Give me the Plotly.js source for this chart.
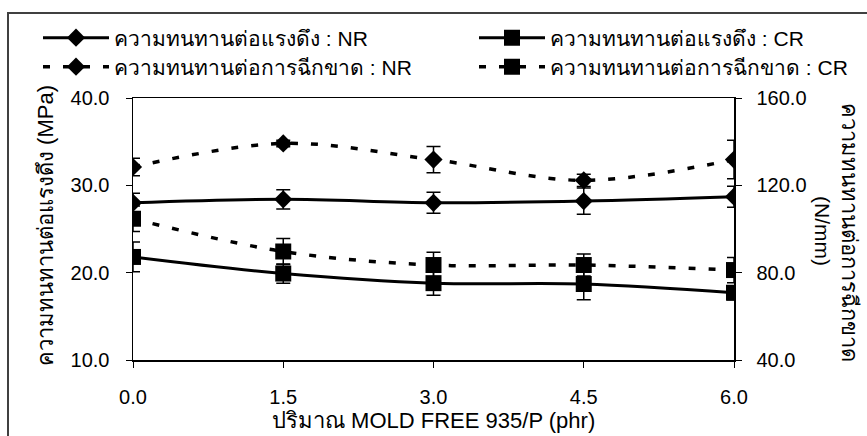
<!DOCTYPE html>
<html>
<head>
<meta charset="utf-8">
<script src="https://cdn.plot.ly/plotly-3.0.1.min.js"></script>
<style>html,body{margin:0;padding:0;background:#fff;}#chart{width:867px;height:436px;}</style>
</head>
<body>
<div id="chart"></div>
<script>
// ---- data ----
const xValues = [0, 1.5, 3.0, 4.5, 6.0];
const xTickLabels = ['0.0', '1.5', '3.0', '4.5', '6.0'];

const tensileNR = [28.0, 28.4, 28.0, 28.2, 28.7];
const tensileNRErr = [1.1, 1.1, 1.2, 1.5, 1.2];
const tensileCR = [21.8, 19.9, 18.8, 18.7, 17.7];
const tensileCRErr = [1.7, 1.1, 1.4, 1.8, 0.8];

const tearNR = [128.4, 139.2, 131.8, 122.3, 131.8];
const tearNRErr = [4.0, 1.5, 6.0, 2.8, 8.8];
const tearCR = [104.7, 89.7, 83.5, 83.5, 81.2];
const tearCRErr = [5.8, 6.0, 5.8, 5.0, 5.8];

const seriesNames = [
  'ความทนทานต่อแรงดึง : NR',
  'ความทนทานต่อแรงดึง : CR',
  'ความทนทานต่อการฉีกขาด : NR',
  'ความทนทานต่อการฉีกขาด : CR'
];
const leftTitle = 'ความทนทานต่อแรงดึง (MPa)';
const rightTitle1 = 'ความทนทานต่อการฉีกขาด';
const rightTitle2 = '(N/mm)';
const xTitle = 'ปริมาณ MOLD FREE 935/P (phr)';

// ---- layout geometry ----
const W = 867, H = 436;
const L = 133, R = 734, T = 98, B = 360;
const px2x = p => (p - L) / (R - L);
const px2y = p => (B - p) / (B - T);

const FONT = '"Liberation Sans", Arial, sans-serif';

function errBar(arr) {
  return {type: 'data', array: arr, visible: true, color: '#000', thickness: 1.5, width: 7};
}

const solidLine = {color: '#000', width: 3, shape: 'spline', smoothing: 1};
const dashLine = {color: '#000', width: 3.5, dash: '7px,13px', shape: 'spline', smoothing: 1};

const traces = [
  {x: xValues, y: tensileNR, name: seriesNames[0], type: 'scatter', mode: 'lines+markers',
   line: solidLine, marker: {symbol: 'diamond', size: 14, color: '#000'},
   error_y: errBar(tensileNRErr), yaxis: 'y', legend: 'legend'},
  {x: xValues, y: tensileCR, name: seriesNames[1], type: 'scatter', mode: 'lines+markers',
   line: solidLine, marker: {symbol: 'square', size: 16, color: '#000'},
   error_y: errBar(tensileCRErr), yaxis: 'y', legend: 'legend2'},
  {x: xValues, y: tearNR, name: seriesNames[2], type: 'scatter', mode: 'lines+markers',
   line: dashLine, marker: {symbol: 'diamond', size: 14, color: '#000'},
   error_y: errBar(tearNRErr), yaxis: 'y2', legend: 'legend3'},
  {x: xValues, y: tearCR, name: seriesNames[3], type: 'scatter', mode: 'lines+markers',
   line: dashLine, marker: {symbol: 'square', size: 16, color: '#000'},
   error_y: errBar(tearCRErr), yaxis: 'y2', legend: 'legend4'}
];

function legendAt(xpx, ypx) {
  return {
    orientation: 'h', xref: 'container', yref: 'container',
    x: xpx / W, y: 1 - ypx / H,
    xanchor: 'left', yanchor: 'middle',
    font: {family: FONT, size: 21, color: '#000'},
    bgcolor: 'rgba(0,0,0,0)', borderwidth: 0,
    itemwidth: 66, itemclick: false
  };
}

const TICKFONT = {family: FONT, size: 20, color: '#000'};

const layout = {
  width: W, height: H,
  margin: {l: L, r: W - R, t: T, b: H - B, pad: 0},
  paper_bgcolor: '#fff', plot_bgcolor: '#fff',
  font: {family: FONT, size: 20, color: '#000'},
  showlegend: true,
  legend: legendAt(38, 38),
  legend2: legendAt(474, 38),
  legend3: legendAt(38, 67),
  legend4: legendAt(474, 67),
  xaxis: {
    range: [0, 6], tickmode: 'array', tickvals: xValues, ticktext: xTickLabels,
    showgrid: false, zeroline: false, showline: true, linecolor: '#000', linewidth: 1.5,
    mirror: true, ticks: 'outside', ticklen: 6, tickcolor: '#000', tickwidth: 1,
    ticklabelstandoff: 12, tickfont: TICKFONT
  },
  yaxis: {
    range: [10, 40], tickvals: [10, 20, 30, 40], ticktext: ['10.0', '20.0', '30.0', '40.0'],
    tickmode: 'array', showgrid: false, zeroline: false, showline: true, linecolor: '#000', linewidth: 1.5,
    ticks: 'outside', ticklen: 6, tickcolor: '#000', tickwidth: 1,
    ticklabelstandoff: 12, tickfont: TICKFONT
  },
  yaxis2: {
    range: [40, 160], tickvals: [40, 80, 120, 160], ticktext: ['40.0', '80.0', '120.0', '160.0'],
    tickmode: 'array', overlaying: 'y', side: 'right',
    showgrid: false, zeroline: false, showline: true, linecolor: '#000', linewidth: 1.5,
    ticks: 'outside', ticklen: 6, tickcolor: '#000', tickwidth: 1,
    ticklabelstandoff: 11, tickfont: TICKFONT
  },
  shapes: [
    {type: 'rect', xref: 'paper', yref: 'paper',
     x0: px2x(8), x1: px2x(W + 20), y0: px2y(13), y1: px2y(H + 20),
     line: {color: '#404040', width: 2}, fillcolor: 'rgba(0,0,0,0)', layer: 'below'}
  ],
  annotations: [
    {text: leftTitle, xref: 'paper', yref: 'paper', x: px2x(45), y: px2y(226),
     xanchor: 'center', yanchor: 'middle', textangle: -90, showarrow: false,
     font: {family: FONT, size: 22, color: '#000'}},
    {text: rightTitle1, xref: 'paper', yref: 'paper', x: px2x(850), y: px2y(232),
     xanchor: 'center', yanchor: 'middle', textangle: 90, showarrow: false,
     font: {family: FONT, size: 22, color: '#000'}},
    {text: rightTitle2, xref: 'paper', yref: 'paper', x: px2x(823), y: px2y(231),
     xanchor: 'center', yanchor: 'middle', textangle: 90, showarrow: false,
     font: {family: FONT, size: 21, color: '#000'}},
    {text: xTitle, xref: 'paper', yref: 'paper', x: 0.5, y: px2y(421),
     xanchor: 'center', yanchor: 'middle', showarrow: false,
     font: {family: FONT, size: 22, color: '#000'}}
  ]
};

Plotly.newPlot('chart', traces, layout, {displayModeBar: false, staticPlot: true});
</script>
</body>
</html>
